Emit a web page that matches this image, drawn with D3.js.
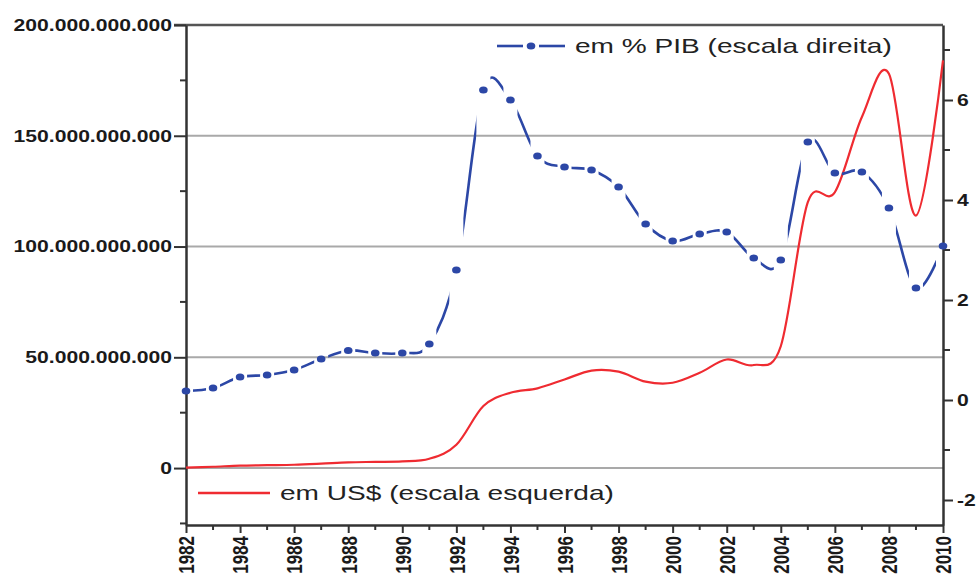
<!DOCTYPE html>
<html>
<head>
<meta charset="utf-8">
<script src="https://cdn.jsdelivr.net/npm/d3@7"></script>
<style>
  body { margin: 0; background: #fff; }
  svg { display: block; font-family: "Liberation Sans", Arial, sans-serif; }
</style>
</head>
<body>
<svg id="chart" width="978" height="580"></svg>
<script>
const years = [1982, 1983, 1984, 1985, 1986, 1987, 1988, 1989, 1990, 1991, 1992, 1993, 1994, 1995,
  1996, 1997, 1998, 1999, 2000, 2001, 2002, 2003, 2004, 2005, 2006, 2007, 2008, 2009, 2010]

// em US$ (bilhões) - escala esquerda
const usdBn = [0.2, 0.6, 1.1, 1.3, 1.5, 2.0, 2.6, 2.8, 3.0, 4.2, 10.5, 28, 34, 36,
  40, 44, 43.5, 39, 38.5, 43, 49, 46.5, 55, 120, 124.5, 158.5, 178, 114, 184]

// em % PIB - escala direita
const pctPib = [0.18, 0.24, 0.46, 0.5, 0.6, 0.82, 0.99, 0.94, 0.94, 1.12, 2.6, 6.2, 6.0, 4.88,
  4.66, 4.6, 4.26, 3.52, 3.18, 3.32, 3.36, 2.84, 2.8, 5.16, 4.54, 4.56, 3.84, 2.24, 3.08]

const leftTicks = [0, 50e9, 100e9, 150e9, 200e9]
const leftMinor = [-25e9, 25e9, 75e9, 125e9, 175e9]
const rightTicks = [-2, 0, 2, 4, 6]
const rightMinor = [-1, 1, 3, 5, 7]
const xTicks = [1982, 1984, 1986, 1988, 1990, 1992, 1994, 1996, 1998, 2000, 2002, 2004, 2006, 2008, 2010]
const xMinor = [1983, 1985, 1987, 1989, 1991, 1993, 1995, 1997, 1999, 2001, 2003, 2005, 2007, 2009]

const legendPib = 'em % PIB (escala direita)'
const legendUsd = 'em US$ (escala esquerda)'

const margin = { top: 25, right: 35, bottom: 55, left: 186 }
const width = 978
const height = 580
const _w = width - margin.left - margin.right
const _h = height - margin.top - margin.bottom

const red = '#ef2b31'
const blue = '#2c47a6'
const sx = 1.28 // picture is stretched horizontally

const svg = d3.select('#chart')
const g = svg.append('g').attr('transform', `translate(${margin.left},${margin.top})`)

const x = d3.scaleLinear().domain([1982, 2010]).range([0, _w])
const yL = d3.scaleLinear().domain([-25.7e9, 200e9]).range([_h, 0])
const yR = d3.scaleLinear().domain([-2.5, 7.5]).range([_h, 0])

const br = d3.formatLocale({ decimal: ',', thousands: '.', grouping: [3], currency: ['', ''] }).format(',')

function stretch(sel, s, extra) {
  sel.each(function () {
    const t = d3.select(this)
    const px = +t.attr('x') || 0
    t.attr('x', px / s).attr('transform', `scale(${s},1)` + (extra || ''))
  })
}

// grid
g.append('g')
  .selectAll('line')
  .data(leftTicks.slice(0, 4))
  .join('line')
  .attr('x1', 0)
  .attr('x2', _w)
  .attr('y1', (d) => yL(d))
  .attr('y2', (d) => yL(d))
  .attr('stroke', '#a9a9a9')
  .attr('stroke-width', 2)

// top frame
g.append('line')
  .attr('x1', -12).attr('x2', _w)
  .attr('y1', 0).attr('y2', 0)
  .attr('stroke', '#555').attr('stroke-width', 2.5)

// minor ticks
const minorStyle = (s) => s.attr('stroke', '#333').attr('stroke-width', 2)
g.append('g').selectAll('line').data(leftMinor).join('line')
  .attr('x1', -6).attr('x2', 0).attr('y1', (d) => yL(d)).attr('y2', (d) => yL(d)).call(minorStyle)
g.append('g').selectAll('line').data(rightMinor).join('line')
  .attr('x1', _w).attr('x2', _w + 7).attr('y1', (d) => yR(d)).attr('y2', (d) => yR(d)).call(minorStyle)
g.append('g').selectAll('line').data(xMinor).join('line')
  .attr('x1', (d) => x(d)).attr('x2', (d) => x(d)).attr('y1', _h).attr('y2', _h + 5).call(minorStyle)

// axes
const axL = g.append('g')
  .call(d3.axisLeft(yL).tickValues(leftTicks).tickFormat(br).tickSize(12).tickPadding(2).tickSizeOuter(0))
const axR = g.append('g').attr('transform', `translate(${_w},0)`)
  .call(d3.axisRight(yR).tickValues(rightTicks).tickFormat((d) => String(d)).tickSize(10).tickPadding(4).tickSizeOuter(0))
const axB = g.append('g').attr('transform', `translate(0,${_h})`)
  .call(d3.axisBottom(x).tickValues(xTicks).tickFormat(d3.format('d')).tickSize(8).tickPadding(4).tickSizeOuter(0))

for (const ax of [axL, axR, axB]) {
  ax.select('.domain').attr('stroke', '#333').attr('stroke-width', 2.5)
  ax.selectAll('.tick line').attr('stroke', '#333').attr('stroke-width', 2)
  ax.selectAll('text')
    .attr('fill', '#1a1a1a')
    .attr('font-size', 16.5)
    .attr('font-weight', 'bold')
    .attr('font-family', '"Liberation Sans", Arial, sans-serif')
}
stretch(axL.selectAll('text'), sx)
stretch(axR.selectAll('text'), sx)
axB.selectAll('text')
  .attr('font-size', 17)
  .attr('y', 0)
  .attr('x', -11)
  .attr('dy', '0.36em')
  .attr('text-anchor', 'end')
  .attr('transform', `scale(${sx},1) rotate(-90)`)

// blue line gaps around markers
const defs = svg.append('defs')
const mask = defs.append('mask').attr('id', 'gapMask').attr('maskUnits', 'userSpaceOnUse')
  .attr('x', 0).attr('y', 0).attr('width', width).attr('height', height)
mask.append('rect').attr('x', 0).attr('y', 0).attr('width', width).attr('height', height).attr('fill', '#fff')
mask.selectAll('rect.gap').data(years).join('rect').attr('class', 'gap')
  .attr('x', (d) => margin.left + x(d) - 7).attr('y', 0).attr('width', 14).attr('height', height)
  .attr('fill', '#000')

const pibLine = d3.line().x((d, i) => x(years[i])).y((d) => yR(d)).curve(d3.curveCatmullRom.alpha(0))
const usdLine = d3.line().x((d, i) => x(years[i])).y((d) => yL(d * 1e9)).curve(d3.curveCatmullRom.alpha(0))

const lines = svg.append('g').attr('mask', 'url(#gapMask)')
  .append('g').attr('transform', `translate(${margin.left},${margin.top})`)
lines.append('path')
  .datum(pctPib)
  .attr('d', pibLine)
  .attr('fill', 'none')
  .attr('stroke', blue)
  .attr('stroke-width', 2.6)

g.append('g')
  .selectAll('ellipse')
  .data(pctPib)
  .join('ellipse')
  .attr('cx', (d, i) => x(years[i]))
  .attr('cy', (d) => yR(d))
  .attr('rx', 4.3)
  .attr('ry', 3.5)
  .attr('fill', blue)

g.append('path')
  .datum(usdBn)
  .attr('d', usdLine)
  .attr('fill', 'none')
  .attr('stroke', red)
  .attr('stroke-width', 2.2)

// legends
const lg1 = svg.append('g').attr('transform', 'translate(497,46)')
lg1.append('line').attr('x1', 0).attr('x2', 26).attr('stroke', blue).attr('stroke-width', 2.6)
lg1.append('line').attr('x1', 42).attr('x2', 68).attr('stroke', blue).attr('stroke-width', 2.6)
lg1.append('ellipse').attr('cx', 34).attr('cy', 0).attr('rx', 4.3).attr('ry', 3.5).attr('fill', blue)
lg1.append('text').attr('x', 78).attr('dy', '0.35em').attr('font-size', 20.5).attr('fill', '#222')
  .text(legendPib).call((s) => stretch(s, 1.37))

const lg2 = svg.append('g').attr('transform', 'translate(198,493)')
lg2.append('line').attr('x1', 0).attr('x2', 72).attr('stroke', red).attr('stroke-width', 2.4)
lg2.append('text').attr('x', 82).attr('dy', '0.35em').attr('font-size', 20.5).attr('fill', '#222')
  .text(legendUsd).call((s) => stretch(s, 1.37))
</script>
</body>
</html>
